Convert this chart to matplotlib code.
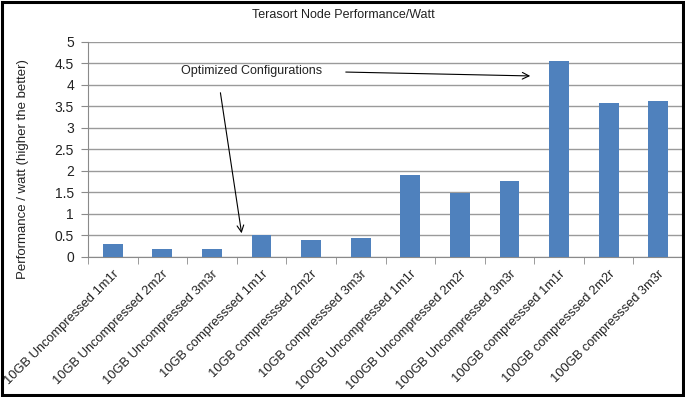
import numpy as np
import matplotlib
matplotlib.use("Agg")
import matplotlib.pyplot as plt
from matplotlib.patches import Rectangle

# data
categories = [
    "10GB Uncompressed 1m1r", "10GB Uncompressed 2m2r", "10GB Uncompressed 3m3r",
    "10GB compresssed 1m1r", "10GB compresssed 2m2r", "10GB compresssed 3m3r",
    "100GB Uncompressed 1m1r", "100GB Uncompressed 2m2r", "100GB Uncompressed 3m3r",
    "100GB compresssed 1m1r", "100GB compresssed 2m2r", "100GB compresssed 3m3r",
]
perf_per_watt = [0.30, 0.19, 0.19, 0.50, 0.40, 0.44, 1.90, 1.47, 1.75, 4.54, 3.57, 3.63]
y_ticks = [0, 0.5, 1, 1.5, 2, 2.5, 3, 3.5, 4, 4.5, 5]
y_tick_labels = ["0", "0.5", "1", "1.5", "2", "2.5", "3", "3.5", "4", "4.5", "5"]

plt.rcParams['font.family'] = ['Liberation Sans', 'DejaVu Sans']

W, H = 685, 397
fig = plt.figure(figsize=(W / 100, H / 100), dpi=100)
fig.patch.set_facecolor("white")
fig.patches.append(Rectangle((0.003, 0.004), 0.994, 0.991, transform=fig.transFigure,
                             fill=False, edgecolor="black", linewidth=2.2))

ax_w = 683 - 88
ax_h = 256.7 - 41.7
ax = fig.add_axes([88 / W, 1 - 256.7 / H, ax_w / W, ax_h / H])

x = np.arange(len(categories))
ax.bar(x, perf_per_watt, width=0.4, color="#4F81BD", zorder=3)

ax.set_xlim(-0.5, len(categories) - 0.5)
ax.set_ylim(0, 5)
ax.set_yticks(y_ticks)
ax.set_yticklabels(y_tick_labels, fontsize=10, color="#222222")
ax.grid(axis="y", color="#9a9a9a", linewidth=1.0, zorder=0)

ax.set_xticks(x)
ax.set_xticklabels(categories, rotation=45, ha="right", rotation_mode="anchor",
                   fontsize=9.3, color="#222222")
ax.tick_params(axis="x", which="major", length=0, pad=8)
ax.set_xticks(np.arange(-0.5, len(categories), 1.0), minor=True)
ax.tick_params(axis="x", which="minor", length=5, color="#8a8a8a")
ax.tick_params(axis="y", length=5, color="#8a8a8a", pad=5)

for side in ["top", "right"]:
    ax.spines[side].set_visible(False)
for side in ["left", "bottom"]:
    ax.spines[side].set_color("#8a8a8a")

ax.set_ylabel("Performance / watt (higher the better)", fontsize=9.5, color="#222222")
ax.yaxis.set_label_coords((29 - 88) / ax_w, (256.7 - 169) / ax_h)
fig.text(343 / W, 1 - 15 / H, "Terasort Node Performance/Watt", ha="center", va="center",
         fontsize=9, color="#222222")

# annotation with two arrows
def px(xp, yp):
    return (xp / W, 1 - yp / H)

fig.text(252 / W, 1 - 71 / H, "Optimized Configurations", ha="center", va="center",
         fontsize=9, color="#222222")
arrow = dict(arrowstyle="->", color="black", linewidth=0.8, mutation_scale=12)
ax.annotate("", xy=px(533, 76), xytext=px(343, 72), xycoords="figure fraction",
            textcoords="figure fraction", arrowprops=arrow)
ax.annotate("", xy=px(242, 236), xytext=px(220, 90), xycoords="figure fraction",
            textcoords="figure fraction", arrowprops=arrow)

fig.savefig("out.png", dpi=100)
